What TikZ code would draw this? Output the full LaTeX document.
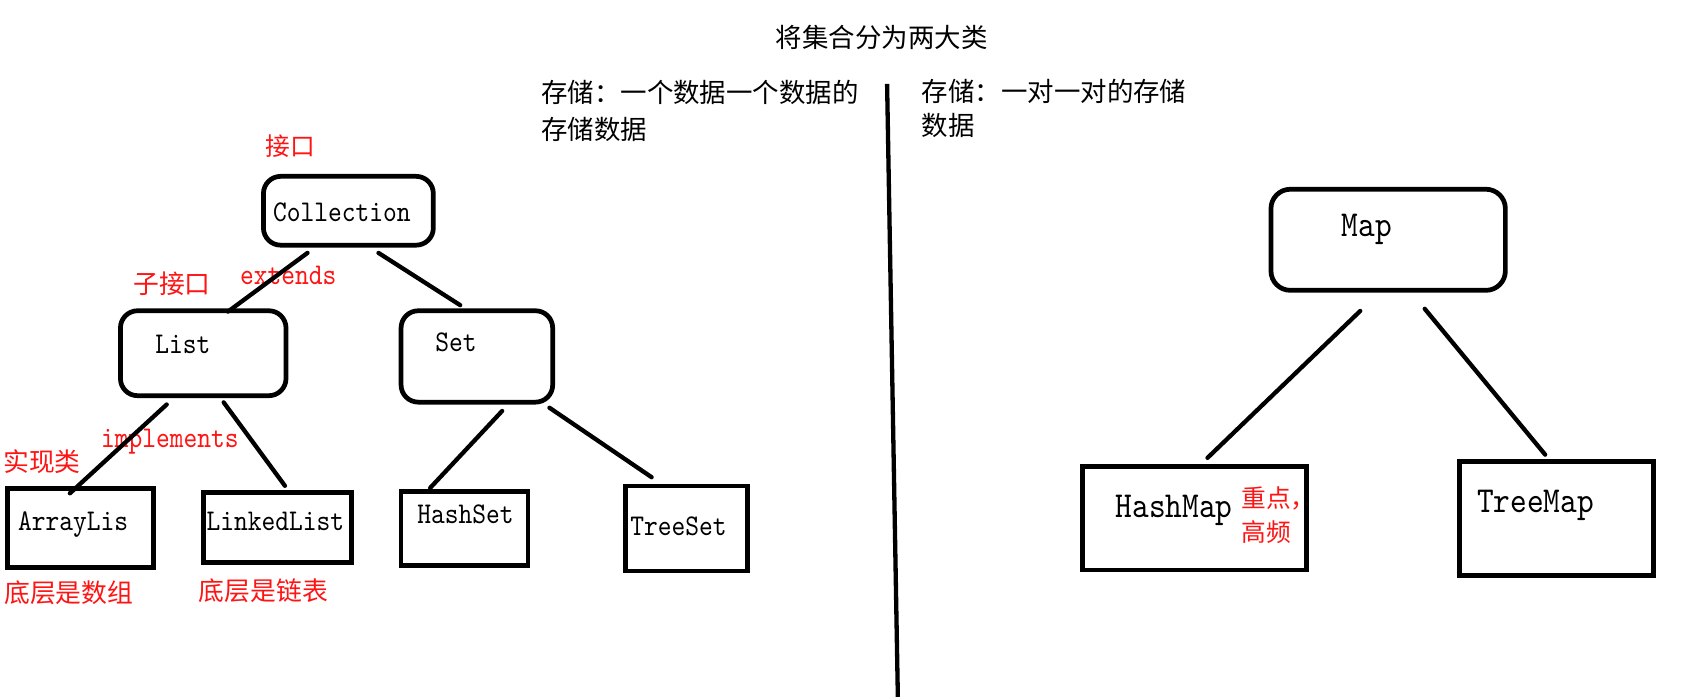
\documentclass[tikz,border=0pt]{standalone}
\usepackage{fontspec}
\newfontfamily\cjk{Noto Sans CJK SC}
\newfontfamily\mono[FakeStretch=0.87]{lmmono10-regular.otf}
\usetikzlibrary{calc}
\definecolor{redtxt}{RGB}{255,20,20}
\begin{document}
\begin{tikzpicture}[x=0.5pt,y=-0.5pt,
  rbox/.style={draw,line width=2.2pt,rounded corners=8pt,inner sep=0pt},
  sbox/.style={draw,line width=2.2pt,inner sep=0pt},
  conn/.style={line width=2pt,line cap=round},
  mlabel/.style={font=\mono\fontsize{14}{16}\selectfont,inner sep=0pt},
  biglabel/.style={font=\mono\fontsize{17}{19}\selectfont,inner sep=0pt},
  redmono/.style={mlabel,text=redtxt},
  cjklabel/.style={font=\cjk\fontsize{12.3}{17}\selectfont,inner sep=0pt},
  redcjk/.style={font=\cjk\fontsize{12}{15.5}\selectfont,text=redtxt,inner sep=0pt},
]
\useasboundingbox[fill=white] (0,0) rectangle (1568,649);

% title and descriptions
\node[cjklabel] (title) at (820,35) {将集合分为两大类};
\node[cjklabel,anchor=west,align=left] (descL) at (503,103) {存储：一个数据一个数据的\\存储数据};
\node[cjklabel,anchor=west,align=left,font=\cjk\fontsize{12.3}{16}\selectfont] (descR) at (857,101) {存储：一对一对的存储\\数据};

% divider
\coordinate (divtop) at (825,78);
\coordinate (divbot) at (835,648);
\draw[line width=2pt] (divtop) -- (divbot);

% boxes
\node[rbox,minimum width=79pt,minimum height=32pt] (coll) at (324,196) {};
\node[rbox,minimum width=77pt,minimum height=39.5pt] (list) at (189,328.5) {};
\node[rbox,minimum width=70.5pt,minimum height=42.5pt] (set) at (443.5,331.5) {};
\node[sbox,minimum width=68pt,minimum height=37pt] (arr) at (75,491) {};
\node[sbox,minimum width=69pt,minimum height=32.5pt] (linked) at (258,490.5) {};
\node[sbox,minimum width=59pt,minimum height=34.5pt] (hset) at (432,491.5) {};
\node[sbox,minimum width=56.5pt,minimum height=39.5pt] (tset) at (638.5,491.5) {};
\node[rbox,rounded corners=9pt,minimum width=109pt,minimum height=47pt] (map) at (1291,223) {};
\node[sbox,minimum width=104pt,minimum height=48pt] (hmap) at (1111,482) {};
\node[sbox,minimum width=90.5pt,minimum height=53pt] (tmap) at (1447.5,482) {};

% box texts
\node[mlabel] (tcoll) at (318,197) {Collection};
\node[mlabel] (tlist) at (170,320) {List};
\node[mlabel] (tsett) at (424,318) {Set};
\node[mlabel] (tarr) at (68,488) {ArrayLis};
\node[mlabel] (tlinked) at (256,485) {LinkedList};
\node[mlabel] (thset) at (433,478) {HashSet};
\node[mlabel] (ttset) at (631,489) {TreeSet};
\node[biglabel] (tmapt) at (1271,213) {Map};
\node[biglabel] (thmap) at (1092,475) {HashMap};
\node[biglabel] (ttmap) at (1428,470) {TreeMap};

% red annotations
\node[redcjk,font=\cjk\fontsize{11.5}{15}\selectfont] (jiekou) at (270,136) {接口};
\node[redcjk] (zijiekou) at (160,264) {子接口};
\node[redmono] (extends) at (268,256) {extends};
\node[redcjk] (shixian) at (39,429) {实现类};
\node[redmono] (implements) at (158,411) {implements};
\node[redcjk] (dcarr) at (64,551) {底层是数组};
\node[redcjk] (dclink) at (245,549) {底层是链表};
\node[redcjk,font=\cjk\fontsize{11.5}{15.5}\selectfont,anchor=west,align=left] (zhongdian) at (1154,479) {重点，\\高频};

% connectors
\draw[conn] ($(coll.south)+(-38,5)$) -- ($(list.north)+(23,3)$);
\draw[conn] ($(coll.south)+(28,5)$) -- ($(set.north)+(-15.5,-3)$);
\draw[conn] ($(list.south)+(-34,6)$) -- ($(arr.north)+(-10,7)$);
\draw[conn] ($(list.south)+(19,4)$) -- ($(linked.north)+(7,-4)$);
\draw[conn] ($(set.south)+(23.5,6)$) -- ($(hset.north)+(-32,-1)$);
\draw[conn] ($(set.south)+(67.5,3)$) -- ($(tset.north)+(-32.5,-6)$);
\draw[conn] ($(map.south)+(-26,17)$) -- ($(hmap.north)+(12,-6)$);
\draw[conn] ($(map.south)+(34,15)$) -- ($(tmap.north)+(-10.5,-4)$);
\end{tikzpicture}
\end{document}
